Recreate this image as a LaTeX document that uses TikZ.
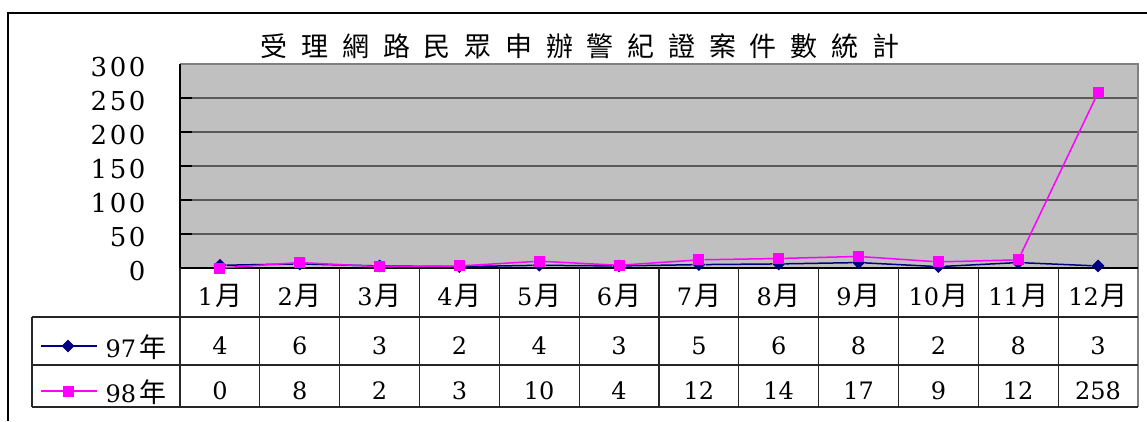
\documentclass[tikz,border=0pt]{standalone}
\usepackage{fontspec}
\setmainfont{DejaVu Serif}
\usetikzlibrary{positioning,shapes.geometric}
\newfontfamily\cjk{Noto Sans CJK TC}
\newcommand\cjkchar[1]{{\cjk\fontsize{27}{27}\selectfont #1}}
\definecolor{navy}{HTML}{000080}
\definecolor{mag}{HTML}{FF00FF}
\definecolor{plotgray}{HTML}{C0C0C0}

\begin{document}
\begin{tikzpicture}[x=1pt,y=-1pt,
    ylab/.style={anchor=east,font=\fontsize{26}{26}\selectfont\addfontfeature{LetterSpace=10}},
    cell/.style={font=\fontsize{24}{24}\selectfont},
    dia/.style={diamond,fill=navy,inner sep=0pt,minimum size=13pt},
    sq/.style={rectangle,fill=mag,inner sep=0pt,minimum size=11pt},
    grid line/.style={line width=1.5pt,black!65},
    tab line/.style={line width=1.1pt,black!85}]
  \useasboundingbox (0,0) rectangle (1147,421);
  % frame
  \draw[line width=1.6pt] (8,421) -- (8,13) -- (1147,13);
  \node[font=\cjk\fontsize{27}{27}\selectfont\addfontfeature{LetterSpace=51}] (title) at (580,46) {受理網路民眾申辦警紀證案件數統計};

  % plot area
  \fill[plotgray] (180,64) rectangle (1138,268);
  \foreach \k in {1,...,5}
    \draw[grid line] (180,{64+34*\k}) -- (1138,{64+34*\k});
  \foreach \k in {0,...,5}
    \draw[line width=1.5pt] (180,{64+34*\k}) -- (192,{64+34*\k});
  \draw[line width=1.3pt,black!50] (180,64) -- (1138,64) -- (1138,407);
  \draw[line width=1.3pt] (180,64) -- (180,268) -- (1138,268);
  \foreach \v [count=\k from 0] in {300,250,...,0}
    \node[ylab] (y\v) at (149,{67+34*\k}) {\v};

  % table
  \foreach \y in {317,365,407}
    \draw[tab line] (32,\y) -- (1138,\y);
  \draw[tab line] (32,317) -- (32,407);
  \foreach \k in {0,...,11}
    \draw[tab line] ({180+79.83*\k},268) -- ({180+79.83*\k},407);
  \foreach \i in {1,...,12}
    \node[cell] (m\i) at ({180+79.83*(\i-0.5)},296) {\i\kern2pt\cjkchar{月}};
  \foreach \v [count=\i] in {4,6,3,2,4,3,5,6,8,2,8,3}
    \node[cell] (u\i) at ({180+79.83*(\i-0.5)},346) {\v};
  \foreach \v [count=\i] in {0,8,2,3,10,4,12,14,17,9,12,258}
    \node[cell] (w\i) at ({180+79.83*(\i-0.5)},391) {\v};

  % legend keys
  \coordinate (ka) at (41,346);
  \coordinate (kb) at (97,346);
  \coordinate (kc) at (41,391);
  \coordinate (kd) at (97,391);
  \draw[navy,line width=1.5pt] (ka) -- (kb);
  \draw[mag,line width=1.5pt] (kc) -- (kd);
  \node[dia] (k1) at (68,346) {};
  \node[sq] (k2) at (68,391) {};
  \node[cell,anchor=west] (t1) at (102,347) {97\kern3pt\cjkchar{年}};
  \node[cell,anchor=west] (t2) at (102,392) {98\kern3pt\cjkchar{年}};

  % 97
  \foreach \v [count=\i] in {4,6,3,2,4,3,5,6,8,2,8,3}
    \node[dia] (p\i) at ({180+79.83*(\i-0.5)},{268-0.68*\v}) {};
  \foreach \i [count=\j from 2] in {1,...,11}
    \draw[navy,line width=1.5pt] (p\i) -- (p\j);
  % 98
  \foreach \v [count=\i] in {0,8,2,3,10,4,12,14,17,9,12,258}
    \node[sq] (q\i) at ({180+79.83*(\i-0.5)},{268-0.68*\v}) {};
  \foreach \i [count=\j from 2] in {1,...,11}
    \draw[mag,line width=1.5pt] (q\i) -- (q\j);
\end{tikzpicture}
\end{document}
